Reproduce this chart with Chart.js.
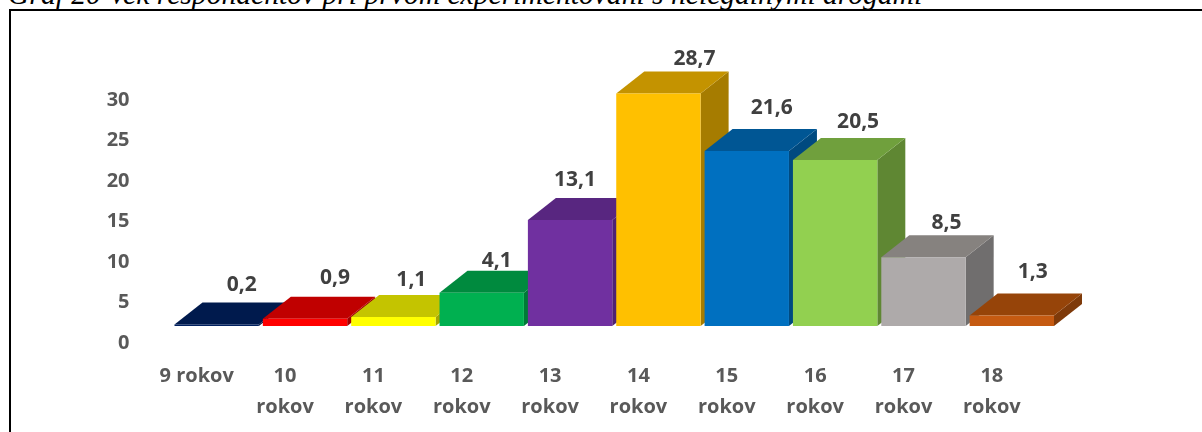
<!DOCTYPE html>
<html lang="sk">
<head>
<meta charset="UTF-8">
<title>Graf 20</title>
<script src="https://cdn.jsdelivr.net/npm/chart.js"></script>
<style>
  html, body { margin: 0; padding: 0; background: #fff; }
  body { position: relative; width: 1202px; height: 432px; overflow: hidden; }
  #caption {
    position: absolute; left: 8px; top: -23px;
    font: italic 29.6px "Liberation Serif", serif; line-height: 34px;
    color: #000; white-space: nowrap;
  }
  #frame {
    position: absolute; left: 9px; top: 9px; right: -4px; bottom: -4px;
    border: 2px solid #000; background: #fff;
  }
  #chart { position: absolute; left: 0; top: 0; }
</style>
</head>
<body>
<div id="frame"></div>
<div id="caption">Graf 20 Vek respondentov pri prvom experimentovaní s nelegálnymi drogami</div>
<canvas id="chart" width="1202" height="432"></canvas>
<script>
  const categories = ['9 rokov', ['10', 'rokov'], ['11', 'rokov'], ['12', 'rokov'], ['13', 'rokov'],
    ['14', 'rokov'], ['15', 'rokov'], ['16', 'rokov'], ['17', 'rokov'], ['18', 'rokov']];
  const values = [0.2, 0.9, 1.1, 4.1, 13.1, 28.7, 21.6, 20.5, 8.5, 1.3];

  const frontColors = ['#002060', '#ff0000', '#ffff00', '#00b050', '#7030a0', '#ffc000', '#0070c0', '#92d050', '#aeaaaa', '#c55a11'];
  const topColors = ['#001a4d', '#c00000', '#c4c400', '#008a3e', '#582680', '#c49300', '#005694', '#70a03d', '#86827f', '#964409'];
  const sideColors = ['#00163f', '#a00000', '#a6a600', '#007a37', '#4f2272', '#a67c00', '#004a80', '#5f8733', '#706e6e', '#7e3a0a'];

  // value labels do not sit on the bars in the original, they were moved by hand
  const labelDx = [25, 30, 18, 15, 5, 36, 25, 23, 23, 21];
  const labelDy = [-17, -19, -15, -10, -18, -13, -21, -16, -12, -21];

  const depthX = 28;
  const depthY = 22;

  function face(ctx, color, pts) {
    ctx.fillStyle = color;
    ctx.beginPath();
    pts.forEach((p, i) => i ? ctx.lineTo(p[0], p[1]) : ctx.moveTo(p[0], p[1]));
    ctx.closePath();
    ctx.fill();
  }

  const box3d = {
    id: 'box3d',
    beforeDatasetsDraw(chart) {
      const ctx = chart.ctx;
      chart.getDatasetMeta(0).data.forEach((bar, i) => {
        const l = bar.x - bar.width / 2, r = bar.x + bar.width / 2;
        face(ctx, sideColors[i], [[r, bar.y], [r + depthX, bar.y - depthY], [r + depthX, bar.base - depthY], [r, bar.base]]);
        face(ctx, topColors[i], [[l, bar.y], [l + depthX, bar.y - depthY], [r + depthX, bar.y - depthY], [r, bar.y]]);
      });
    },
    afterDatasetsDraw(chart) {
      const ctx = chart.ctx;
      ctx.save();
      ctx.font = 'bold 21px "Open Sans"';
      ctx.fillStyle = '#404040';
      ctx.textAlign = 'center';
      ctx.textBaseline = 'middle';
      chart.getDatasetMeta(0).data.forEach((bar, i) => {
        ctx.fillText(String(values[i]).replace('.', ','), bar.x + labelDx[i], bar.y - depthY + labelDy[i]);
      });
      ctx.restore();
    }
  };

  new Chart(document.getElementById('chart'), {
    type: 'bar',
    data: {
      labels: categories,
      datasets: [{
        data: values,
        backgroundColor: frontColors,
        borderWidth: 0,
        categoryPercentage: 1,
        barPercentage: 0.955,
        yAxisID: 'y'
      }]
    },
    plugins: [box3d],
    options: {
      responsive: false,
      animation: false,
      layout: { padding: { left: 8, right: 146, top: 24, bottom: 0 } },
      plugins: { legend: { display: false }, tooltip: { enabled: false } },
      scales: {
        x: {
          grid: { display: false, drawTicks: false },
          border: { display: false },
          afterFit(scale) { scale.height = 89; },
          ticks: {
            autoSkip: false, maxRotation: 0, labelOffset: -20, padding: 17,
            color: '#595959',
            font: { family: 'Open Sans', weight: 'bold', size: 20, lineHeight: 1.58 }
          }
        },
        // bars stand 17px above the printed zero, as in the 3D chart
        y: { display: false, min: -2.099, max: 33.46 },
        yTicks: {
          position: 'left',
          min: 0,
          max: 35.56,
          grid: { display: false, drawTicks: false },
          border: { display: false },
          afterFit(scale) { scale.width = 164.5; },
          ticks: {
            stepSize: 5, padding: 43,
            color: '#595959',
            font: { family: 'Open Sans', weight: 'bold', size: 20 },
            callback: v => v > 30 ? null : v
          }
        }
      }
    }
  });
</script>
</body>
</html>
